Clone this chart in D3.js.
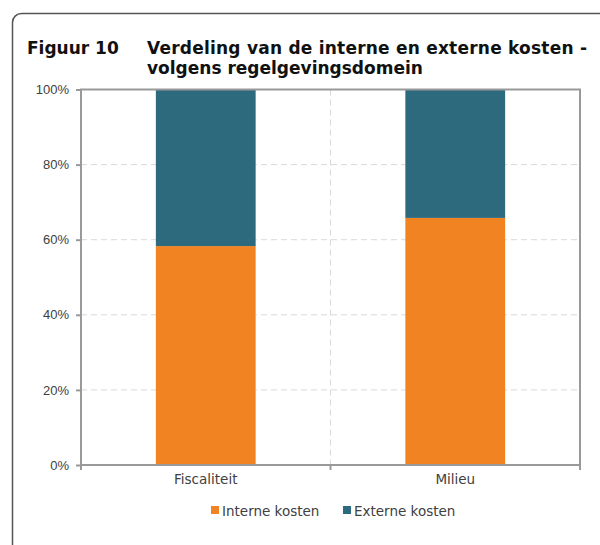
<!DOCTYPE html>
<html>
<head>
<meta charset="utf-8">
<script src="https://cdn.jsdelivr.net/npm/d3@7"></script>
<style>
  body { margin: 0; background: #fff; }
  svg { display: block; }
</style>
</head>
<body>
<svg id="chart"></svg>
<script>
const width = 600;
const height = 545;

// data
const categories = ["Fiscaliteit", "Milieu"];
const interne = [0.583, 0.658];
const externe = [0.417, 0.342];
const seriesNames = ["Interne kosten", "Externe kosten"];
const seriesColors = ["#F28322", "#2E6A7E"];
const yTicks = [0, 0.2, 0.4, 0.6, 0.8, 1];

const plot = {left: 81, right: 580, top: 89.5, bottom: 465};

var svg = d3.select("#chart")
    .attr("width", width)
    .attr("height", height);

// outer frame with rounded corners
svg.append("rect")
    .attr("x", 12.5).attr("y", 13.5)
    .attr("width", 620).attr("height", 600)
    .attr("rx", 9)
    .attr("fill", "none")
    .attr("stroke", "#555")
    .attr("stroke-width", 1.5);

// title
var title = svg.append("g")
    .attr("font-family", "DejaVu Sans, Verdana, sans-serif")
    .attr("font-weight", "bold")
    .attr("font-size", 17)
    .attr("fill", "#111");
title.append("text").attr("x", 27).attr("y", 54).text("Figuur 10");
title.append("text").attr("x", 147).attr("y", 54)
    .attr("textLength", 440).attr("lengthAdjust", "spacing")
    .text("Verdeling van de interne en externe kosten -");
title.append("text").attr("x", 147).attr("y", 74).text("volgens regelgevingsdomein");

var x = d3.scaleBand()
    .domain(categories)
    .range([plot.left, plot.right]);

var y = d3.scaleLinear()
    .domain([0, 1])
    .range([plot.bottom, plot.top]);

// gridlines
svg.append("g")
    .selectAll("line")
    .data(yTicks.filter(d => d > 0 && d < 1))
    .enter().append("line")
    .attr("x1", plot.left).attr("x2", plot.right)
    .attr("y1", d => y(d)).attr("y2", d => y(d))
    .attr("stroke", "#d9d9d9")
    .attr("stroke-dasharray", "6,4");

svg.append("line")
    .attr("x1", x(categories[1])).attr("x2", x(categories[1]))
    .attr("y1", plot.top).attr("y2", plot.bottom)
    .attr("stroke", "#d9d9d9")
    .attr("stroke-dasharray", "6,4");

// stacked bars
var barW = x.bandwidth() * 0.4;
var stacks = [interne, externe];
stacks.forEach((vals, s) => {
    svg.append("g")
        .selectAll("rect")
        .data(categories)
        .enter().append("rect")
        .attr("x", d => x(d) + (x.bandwidth() - barW) / 2)
        .attr("width", barW)
        .attr("y", (d, i) => y((s === 0 ? 0 : interne[i]) + vals[i]))
        .attr("height", (d, i) => y(0) - y(vals[i]))
        .attr("fill", seriesColors[s]);
});

// plot frame
svg.append("rect")
    .attr("x", plot.left).attr("y", plot.top)
    .attr("width", plot.right - plot.left)
    .attr("height", plot.bottom - plot.top)
    .attr("fill", "none")
    .attr("stroke", "#999")
    .attr("stroke-width", 2);

// y axis
var yAxis = d3.axisLeft(y)
    .tickValues(yTicks)
    .tickSize(5)
    .tickFormat(d3.format(".0%"));
var yg = svg.append("g")
    .attr("transform", `translate(${plot.left},0)`)
    .call(yAxis);
yg.select(".domain").remove();
yg.selectAll("line").attr("stroke", "#999").attr("stroke-width", 2);
yg.selectAll("text")
    .attr("font-family", "Liberation Sans, Arial, sans-serif")
    .attr("font-size", 13)
    .attr("fill", "#404040")
    .attr("x", -12);

// x axis
var xAxis = d3.axisBottom(x).tickSize(0).tickPadding(9);
var xg = svg.append("g")
    .attr("transform", `translate(0,${plot.bottom})`)
    .call(xAxis);
xg.select(".domain").remove();
xg.selectAll("text")
    .attr("font-family", "DejaVu Sans, Verdana, sans-serif")
    .attr("font-size", 13.5)
    .attr("fill", "#404040");

// x category boundary ticks
svg.append("g")
    .selectAll("line")
    .data([plot.left, x(categories[1]), plot.right])
    .enter().append("line")
    .attr("x1", d => d).attr("x2", d => d)
    .attr("y1", plot.bottom).attr("y2", plot.bottom + 5)
    .attr("stroke", "#999")
    .attr("stroke-width", 2);

// legend
var legendX = [211, 343];
var legend = svg.append("g")
    .selectAll("g")
    .data(seriesNames)
    .enter().append("g")
    .attr("transform", (d, i) => `translate(${legendX[i]},506)`);
legend.append("rect")
    .attr("width", 8).attr("height", 8)
    .attr("fill", (d, i) => seriesColors[i]);
legend.append("text")
    .attr("x", 11).attr("y", 9.5)
    .attr("font-family", "DejaVu Sans, Verdana, sans-serif")
    .attr("font-size", 13.5)
    .attr("fill", "#404040")
    .text(d => d);
</script>
</body>
</html>
